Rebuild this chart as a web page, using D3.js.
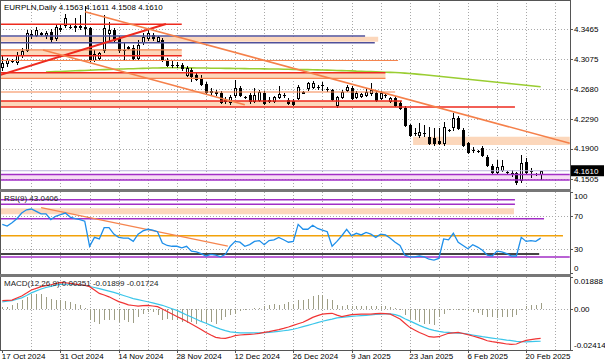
<!DOCTYPE html>
<html>
<head>
<meta charset="utf-8">
<script src="https://cdn.jsdelivr.net/npm/d3@7"></script>
<style>
body { margin: 0; background: #fff; }
svg { display: block; font-family: "Liberation Sans", Arial, sans-serif; font-size: 8px; }
</style>
</head>
<body>
<div id="chart"></div>
<script>
// ---- data ----
var opens = [4.2968,4.3020,4.3060,4.3034,4.3125,4.3191,4.3400,4.3387,4.3413,4.3387,
4.3426,4.3348,4.3478,4.3518,4.3492,4.3492,4.3505,4.3492,4.3478,4.3060,
4.3086,4.3191,4.3413,4.3452,4.3348,4.3191,4.3230,4.3217,4.3086,4.3295,
4.3348,4.3387,4.3308,4.3321,4.3060,4.2994,4.2994,4.2994,4.2863,4.2929,
4.2863,4.2824,4.2746,4.2641,4.2641,4.2628,4.2536,4.2510,4.2602,4.2693,
4.2575,4.2602,4.2523,4.2536,4.2628,4.2536,4.2523,4.2575,4.2602,4.2536,
4.2523,4.2562,4.2641,4.2693,4.2706,4.2706,4.2732,4.2680,4.2667,4.2471,
4.2575,4.2667,4.2693,4.2575,4.2589,4.2602,4.2628,4.2628,4.2562,4.2602,
4.2523,4.2562,4.2497,4.2431,4.2209,4.2104,4.2078,4.2104,4.2052,4.2039,
4.2000,4.1973,4.2143,4.2183,4.2300,4.2143,4.1973,4.1882,4.1869,4.1908,
4.1790,4.1672,4.1594,4.1620,4.1594,4.1581,4.1581,4.1489,4.1725,4.1607,
4.1567,4.1563];
var highs = [4.3112,4.3086,4.3073,4.3164,4.3217,4.3452,4.3452,4.3492,4.3426,4.3439,
4.3465,4.3531,4.3518,4.3662,4.3531,4.3609,4.3649,4.3766,4.3492,4.3191,
4.3164,4.3649,4.3557,4.3478,4.3374,4.3282,4.3243,4.3256,4.3321,4.3413,
4.3465,4.3413,4.3374,4.3348,4.3086,4.3047,4.3034,4.3020,4.2981,4.2955,
4.2903,4.2863,4.2772,4.2693,4.2667,4.2654,4.2575,4.2602,4.2798,4.2719,
4.2589,4.2628,4.2693,4.2667,4.2654,4.2575,4.2589,4.2719,4.2628,4.2562,
4.2549,4.2732,4.2654,4.2772,4.2785,4.2732,4.2772,4.2706,4.2680,4.2589,
4.2667,4.2732,4.2719,4.2654,4.2628,4.2680,4.2759,4.2654,4.2654,4.2628,
4.2575,4.2589,4.2523,4.2458,4.2222,4.2170,4.2235,4.2209,4.2183,4.2170,
4.2170,4.2248,4.2157,4.2366,4.2327,4.2170,4.1986,4.1921,4.1882,4.1934,
4.1816,4.1698,4.1751,4.1751,4.1607,4.1620,4.1594,4.1816,4.1777,4.1646,
4.1581,4.1611];
var lows = [4.2929,4.2981,4.3034,4.3007,4.3099,4.3177,4.3348,4.3374,4.3387,4.3348,
4.3295,4.3321,4.3439,4.3492,4.3478,4.3439,4.3465,4.3387,4.3047,4.3047,
4.3060,4.3164,4.3295,4.3295,4.3164,4.3060,4.3204,4.3060,4.3073,4.3269,
4.3321,4.3321,4.3295,4.3047,4.2981,4.2968,4.2968,4.2929,4.2850,4.2785,
4.2798,4.2732,4.2628,4.2615,4.2602,4.2497,4.2497,4.2484,4.2575,4.2589,
4.2562,4.2497,4.2510,4.2523,4.2484,4.2510,4.2510,4.2562,4.2575,4.2484,
4.2471,4.2549,4.2628,4.2667,4.2693,4.2680,4.2667,4.2654,4.2536,4.2445,
4.2562,4.2654,4.2549,4.2562,4.2575,4.2589,4.2602,4.2523,4.2549,4.2575,
4.2510,4.2458,4.2418,4.2196,4.2065,4.2078,4.2052,4.2065,4.1960,4.1947,
4.1960,4.1947,4.2130,4.2143,4.2157,4.1934,4.1842,4.1856,4.1856,4.1803,
4.1672,4.1581,4.1581,4.1607,4.1581,4.1541,4.1437,4.1463,4.1581,4.1528,
4.1554,4.1508];
var closes = [4.3020,4.3060,4.3053,4.3125,4.3177,4.3413,4.3387,4.3452,4.3400,4.3413,
4.3335,4.3492,4.3471,4.3609,4.3498,4.3505,4.3492,4.3478,4.3060,4.3138,
4.3151,4.3478,4.3452,4.3321,4.3191,4.3184,4.3223,4.3086,4.3256,4.3361,
4.3413,4.3348,4.3361,4.3060,4.2994,4.2988,4.2988,4.2955,4.2955,4.2850,
4.2811,4.2746,4.2641,4.2654,4.2628,4.2510,4.2529,4.2575,4.2693,4.2602,
4.2569,4.2523,4.2602,4.2641,4.2497,4.2529,4.2575,4.2615,4.2595,4.2497,
4.2484,4.2706,4.2634,4.2759,4.2759,4.2700,4.2726,4.2674,4.2549,4.2575,
4.2641,4.2706,4.2562,4.2628,4.2615,4.2641,4.2667,4.2536,4.2628,4.2595,
4.2562,4.2471,4.2431,4.2209,4.2078,4.2098,4.2117,4.2098,4.1973,4.1973,
4.1973,4.2183,4.2137,4.2300,4.2170,4.1947,4.1856,4.1875,4.1862,4.1816,
4.1685,4.1594,4.1659,4.1672,4.1588,4.1574,4.1463,4.1712,4.1594,4.1601,
4.1561,4.1610];

// green moving average, first value at bar maStart
var maStart = 9;
var ma = [4.2903,4.2905,4.2908,4.2910,4.2913,4.2916,4.2918,4.2921,4.2923,4.2926,
4.2929,4.2931,4.2934,4.2937,4.2938,4.2941,4.2942,4.2945,4.2946,4.2948,
4.2950,4.2952,4.2954,4.2955,4.2956,4.2958,4.2958,4.2958,4.2958,4.2956,
4.2956,4.2955,4.2955,4.2954,4.2952,4.2952,4.2951,4.2950,4.2950,4.2948,
4.2948,4.2947,4.2946,4.2946,4.2945,4.2943,4.2942,4.2942,4.2941,4.2939,
4.2938,4.2937,4.2935,4.2934,4.2933,4.2931,4.2930,4.2929,4.2927,4.2925,
4.2922,4.2921,4.2918,4.2917,4.2914,4.2913,4.2910,4.2908,4.2905,4.2903,
4.2900,4.2897,4.2895,4.2892,4.2888,4.2883,4.2878,4.2872,4.2866,4.2859,
4.2853,4.2846,4.2840,4.2833,4.2827,4.2820,4.2814,4.2807,4.2801,4.2794,
4.2787,4.2781,4.2774,4.2768,4.2761,4.2755,4.2748,4.2742,4.2735,4.2729,
4.2722,4.2715,4.2709];

var rsi = [60,58,62,67,74,78,79,76,73,73,
66,70,72,74,69,67,66,64,33,44,
42,56,56,48,44,43,43,39,48,52,
54,53,51,37,34,33,33,31,33,27,
26,24,21,23,22,20,23,33,39,38,
33,35,39,40,35,40,41,44,41,38,
39,60,54,54,59,55,53,51,33,39,
46,54,46,49,47,50,48,44,48,47,
43,38,34,22,20,20,21,20,17,16,
18,42,41,49,38,34,30,35,32,28,
22,21,27,26,24,21,21,44,39,40,
39,43.0406];

var macdMain = [0.0049,0.0051,0.0053,0.0065,0.0077,0.0094,0.0112,0.0122,0.0132,0.0138,
0.0143,0.0150,0.0157,0.0155,0.0151,0.0147,0.0143,0.0140,0.0132,0.0112,
0.0092,0.0083,0.0072,0.0058,0.0044,0.0035,0.0025,0.0021,0.0017,0.0020,
0.0022,0.0018,0.0014,0.0000,-0.0014,-0.0029,-0.0044,-0.0058,-0.0072,-0.0088,
-0.0104,-0.0120,-0.0138,-0.0153,-0.0167,-0.0171,-0.0173,-0.0166,-0.0157,-0.0153,
-0.0151,-0.0149,-0.0147,-0.0143,-0.0138,-0.0133,-0.0127,-0.0121,-0.0114,-0.0106,
-0.0096,-0.0087,-0.0078,-0.0064,-0.0049,-0.0039,-0.0030,-0.0027,-0.0025,-0.0036,
-0.0045,-0.0039,-0.0033,-0.0031,-0.0030,-0.0030,-0.0030,-0.0027,-0.0025,-0.0027,
-0.0030,-0.0044,-0.0059,-0.0084,-0.0108,-0.0123,-0.0138,-0.0150,-0.0163,-0.0165,
-0.0163,-0.0153,-0.0143,-0.0140,-0.0138,-0.0144,-0.0151,-0.0159,-0.0167,-0.0176,
-0.0187,-0.0192,-0.0196,-0.0201,-0.0206,-0.0208,-0.0206,-0.0194,-0.0185,-0.0180,
-0.0176,-0.01724];
var macdSignal = [0.0042,0.0046,0.0050,0.0058,0.0066,0.0080,0.0095,0.0107,0.0118,0.0127,
0.0134,0.0141,0.0145,0.0146,0.0146,0.0144,0.0142,0.0139,0.0133,0.0127,
0.0120,0.0113,0.0106,0.0098,0.0089,0.0080,0.0071,0.0061,0.0055,0.0049,
0.0043,0.0036,0.0029,0.0022,0.0012,0.0002,-0.0008,-0.0021,-0.0035,-0.0047,
-0.0060,-0.0073,-0.0084,-0.0096,-0.0108,-0.0118,-0.0127,-0.0135,-0.0138,-0.0140,
-0.0141,-0.0141,-0.0141,-0.0141,-0.0139,-0.0137,-0.0135,-0.0132,-0.0128,-0.0124,
-0.0119,-0.0112,-0.0104,-0.0096,-0.0088,-0.0080,-0.0072,-0.0065,-0.0059,-0.0052,
-0.0049,-0.0046,-0.0043,-0.0041,-0.0039,-0.0037,-0.0035,-0.0032,-0.0030,-0.0027,
-0.0028,-0.0033,-0.0042,-0.0057,-0.0070,-0.0083,-0.0096,-0.0108,-0.0118,-0.0126,
-0.0132,-0.0136,-0.0138,-0.0140,-0.0142,-0.0144,-0.0148,-0.0153,-0.0158,-0.0163,
-0.0167,-0.0171,-0.0175,-0.0179,-0.0183,-0.0186,-0.0190,-0.0192,-0.0193,-0.0192,
-0.0191,-0.01899];
var macdHist = [0.0012,0.0012,0.0022,0.0035,0.0051,0.0071,0.0086,0.0090,0.0086,0.0071,
0.0061,0.0055,0.0051,0.0047,0.0040,0.0031,0.0022,0.0005,-0.0067,-0.0077,
-0.0090,-0.0067,-0.0063,-0.0067,-0.0077,-0.0063,-0.0077,-0.0082,-0.0047,-0.0028,
-0.0018,-0.0018,-0.0037,-0.0067,-0.0057,-0.0063,-0.0067,-0.0077,-0.0082,-0.0077,
-0.0086,-0.0077,-0.0082,-0.0077,-0.0086,-0.0067,-0.0047,-0.0035,-0.0028,-0.0012,
-0.0004,0.0002,0.0005,0.0008,0.0015,0.0022,0.0031,0.0022,0.0031,0.0041,
0.0031,0.0051,0.0051,0.0061,0.0075,0.0081,0.0081,0.0061,0.0051,0.0022,
0.0016,0.0022,0.0016,0.0016,0.0016,0.0016,0.0016,0.0016,0.0016,0.0016,
0.0012,0.0008,-0.0008,-0.0037,-0.0057,-0.0067,-0.0077,-0.0086,-0.0090,-0.0092,
-0.0047,-0.0028,-0.0004,-0.0004,-0.0004,-0.0008,-0.0012,-0.0018,-0.0024,-0.0037,
-0.0047,-0.0047,-0.0051,-0.0047,-0.0047,-0.0047,-0.0037,-0.0008,0.0016,0.0022,
0.0026,0.00351];

var priceTicks = [4.3465, 4.3075, 4.2680, 4.2290, 4.1900, 4.1505];
var rsiTicks = [100, 70, 30, 0];
var rsiGrid = [70, 30];
var macdTicks = [0.01888, 0, -0.02414];
var macdTickText = ["0.01888", "0.00", "-0.02414"];
var dateLabels = ["17 Oct 2024","31 Oct 2024","14 Nov 2024","28 Nov 2024","12 Dec 2024",
  "26 Dec 2024","9 Jan 2025","23 Jan 2025","6 Feb 2025","20 Feb 2025"];
var dateBars = [0, 12, 24, 36, 48, 60, 72, 84, 96, 108];
var lastPrice = 4.1610;

// drawn objects: [price, endBar, kind]
var hLines = [[4.3527, 37.0, "red"], [4.3116, 37.0, "red"], [4.2893, 79.0, "red"],
  [4.2523, 82.4, "red"], [4.2444, 105.7, "red"],
  [4.3373, 74.8, "navy"], [4.3286, 76.8, "navy"],
  [4.3191, 37.0, "orange"], [4.3053, 81.6, "orange"], [4.2820, 79.0, "orange"], [4.2641, 81.0, "orange"],
  [4.1561, 117, "purple"], [4.1489, 117, "purple"], [4.1610, 117, "bid"]];
// [top, bottom, fromBar, toBar]
var bands = [[4.3364, 4.3299, -1, 77.5], [4.3191, 4.3116, -1, 37.0], [4.2889, 4.2820, -1, 79.0],
  [4.2523, 4.2444, -1, 82.4], [4.2055, 4.1947, 84.7, 117]];
var pinkBand = [4.1561, 4.1489];
// [bar0, price0, bar1, price1, kind]
var trends = [[-0.5, 4.2863, 33.75, 4.3530, "redT"], [17.05, 4.3692, 117, 4.1969, "orangeT"],
  [8.4, 4.3191, 50.0, 4.2475, "orangeT"]];
// RSI objects: [value, endBar, kind]
var rsiLines = [[90.5, 105.7, "purple"], [84.8, 105.7, "purple"], [67, 111.7, "purple"],
  [46, 115.6, "gold"], [23.5, 110.7, "dark"], [19.8, 117, "purple"]];
var rsiBand = [79.9, 72.5, -1, 105.5];
var rsiTrend = [8.0, 80.6, 46.5, 33.3];

var styles = {
  red: {c: "#ee2a1e", w: 1.6}, redT: {c: "#ee2a1e", w: 2},
  navy: {c: "#50509a", w: 1.5}, orange: {c: "#f5854f", w: 1.2}, orangeT: {c: "#f5804a", w: 1.6},
  purple: {c: "#a22ec6", w: 1.5}, bid: {c: "#bcb2dc", w: 1},
  gold: {c: "#f2a20a", w: 1.5}, dark: {c: "#444", w: 2}
};

// ---- layout ----
var W = 605, H = 363, plotR = 570;
var panels = [{t: 0, b: 189.5}, {t: 192, b: 273}, {t: 277, b: 350}];

var x = d3.scaleLinear().domain([0, 117]).range([2.3, 569.75]);
var y = d3.scaleLinear().domain([4.1367, 4.3845]).range([189.3, 0]);
var yR = d3.scaleLinear().domain([0, 100]).range([273, 192]);
var yM = d3.scaleLinear().domain([-0.02414, 0.01888]).range([350, 277]);
function px(i) { return Math.round(x(i)) + 0.5; }

var svg = d3.select("#chart").append("svg").attr("width", W).attr("height", H);
svg.append("rect").attr("width", W).attr("height", H).attr("fill", "#fff");

var defs = svg.append("defs");
panels.forEach(function(p, k) {
  defs.append("clipPath").attr("id", "clip" + k).append("rect")
    .attr("x", 1).attr("y", p.t).attr("width", plotR - 1).attr("height", p.b - p.t);
});

var gMain = svg.append("g").attr("clip-path", "url(#clip0)");
var gRsi = svg.append("g").attr("clip-path", "url(#clip1)");
var gMacd = svg.append("g").attr("clip-path", "url(#clip2)");

// grid
var vGrid = d3.range(6, 117, 6);
[gMain, gRsi, gMacd].forEach(function(g, k) {
  g.selectAll(".vg").data(vGrid).enter().append("line")
    .attr("x1", px).attr("x2", px).attr("y1", panels[k].t).attr("y2", panels[k].b)
    .attr("stroke", "#a8a8a8").attr("stroke-dasharray", "1,2").attr("shape-rendering", "crispEdges");
});
function hGrid(g, vals, sc) {
  g.selectAll(".hg").data(vals).enter().append("line")
    .attr("x1", 0).attr("x2", plotR)
    .attr("y1", function(d) { return Math.round(sc(d)) + 0.5; })
    .attr("y2", function(d) { return Math.round(sc(d)) + 0.5; })
    .attr("stroke", "#a8a8a8").attr("stroke-dasharray", "1,2").attr("shape-rendering", "crispEdges");
}

// main bands (background)
gMain.selectAll(".band").data(bands).enter().append("rect")
  .attr("x", function(d) { return x(d[2]); })
  .attr("width", function(d) { return x(d[3]) - x(d[2]); })
  .attr("y", function(d) { return y(d[0]); })
  .attr("height", function(d) { return y(d[1]) - y(d[0]); })
  .attr("fill", "#fcd7bb");
gMain.append("rect").attr("x", 0).attr("width", plotR)
  .attr("y", y(pinkBand[0])).attr("height", y(pinkBand[1]) - y(pinkBand[0]))
  .attr("fill", "#f6dcf4");
hGrid(gMain, priceTicks, y);

// moving average
var maLine = d3.line().x(function(d, k) { return x(maStart + k); }).y(function(d) { return y(d); });
gMain.append("path").datum(ma).attr("d", maLine)
  .attr("fill", "none").attr("stroke", "#9acd32").attr("stroke-width", 1.6);

// candles
var idx = d3.range(closes.length);
var candles = gMain.selectAll(".c").data(idx).enter().append("g").attr("shape-rendering", "crispEdges");
candles.append("line")
  .attr("x1", px).attr("x2", px)
  .attr("y1", function(i) { return Math.round(y(highs[i])); })
  .attr("y2", function(i) { return Math.round(y(lows[i])) + 1; })
  .attr("stroke", "#000");
candles.each(function(i) {
  var g = d3.select(this), cx = px(i);
  var top = Math.round(y(Math.max(opens[i], closes[i])));
  var bot = Math.round(y(Math.min(opens[i], closes[i])));
  if (bot - top < 1) {
    g.append("line").attr("x1", cx - 1.5).attr("x2", cx + 1.5)
      .attr("y1", top + 0.5).attr("y2", top + 0.5).attr("stroke", "#000");
  } else {
    g.append("rect").attr("x", cx - 1).attr("y", top + 0.5)
      .attr("width", 2).attr("height", bot - top)
      .attr("fill", closes[i] >= opens[i] ? "#fff" : "#000").attr("stroke", "#000");
  }
});

// horizontal objects and trendlines
gMain.selectAll(".hl").data(hLines).enter().append("line")
  .attr("x1", 0).attr("x2", function(d) { return x(d[1]); })
  .attr("y1", function(d) { return y(d[0]); }).attr("y2", function(d) { return y(d[0]); })
  .attr("stroke", function(d) { return styles[d[2]].c; })
  .attr("stroke-width", function(d) { return styles[d[2]].w; });
gMain.selectAll(".tl").data(trends).enter().append("line")
  .attr("x1", function(d) { return x(d[0]); }).attr("y1", function(d) { return y(d[1]); })
  .attr("x2", function(d) { return x(d[2]); }).attr("y2", function(d) { return y(d[3]); })
  .attr("stroke", function(d) { return styles[d[4]].c; })
  .attr("stroke-width", function(d) { return styles[d[4]].w; });

// RSI panel
gRsi.append("rect").attr("x", x(rsiBand[2])).attr("width", x(rsiBand[3]) - x(rsiBand[2]))
  .attr("y", yR(rsiBand[0])).attr("height", yR(rsiBand[1]) - yR(rsiBand[0])).attr("fill", "#fcd7bb");
hGrid(gRsi, rsiGrid, yR);
gRsi.selectAll(".rl").data(rsiLines).enter().append("line")
  .attr("x1", 0).attr("x2", function(d) { return x(d[1]); })
  .attr("y1", function(d) { return yR(d[0]); }).attr("y2", function(d) { return yR(d[0]); })
  .attr("stroke", function(d) { return styles[d[2]].c; })
  .attr("stroke-width", function(d) { return styles[d[2]].w; });
gRsi.append("line")
  .attr("x1", x(rsiTrend[0])).attr("y1", yR(rsiTrend[1]))
  .attr("x2", x(rsiTrend[2])).attr("y2", yR(rsiTrend[3]))
  .attr("stroke", styles.orange.c).attr("stroke-width", 1.3);
gRsi.append("path").datum(rsi)
  .attr("d", d3.line().x(function(d, i) { return x(i); }).y(function(d) { return yR(d); }))
  .attr("fill", "none").attr("stroke", "#1e8fea").attr("stroke-width", 1.3);

// MACD panel
hGrid(gMacd, [0], yM);
gMacd.selectAll(".h").data(macdHist).enter().append("line")
  .attr("x1", function(d, i) { return px(i); }).attr("x2", function(d, i) { return px(i); })
  .attr("y1", yM(0)).attr("y2", function(d) { return yM(d); })
  .attr("stroke", "#9e9e86").attr("shape-rendering", "crispEdges");
var mLine = d3.line().x(function(d, i) { return x(i); }).y(function(d) { return yM(d); });
gMacd.append("path").datum(macdSignal).attr("d", mLine)
  .attr("fill", "none").attr("stroke", "#3cc6ea").attr("stroke-width", 1.2);
gMacd.append("path").datum(macdMain).attr("d", mLine)
  .attr("fill", "none").attr("stroke", "#f03434").attr("stroke-width", 1.2);

// frames
var frame = svg.append("g").attr("fill", "none").attr("shape-rendering", "crispEdges");
frame.append("rect").attr("x", 0.5).attr("y", 0.5).attr("width", plotR).attr("height", 350)
  .attr("stroke", "#555");
frame.append("line").attr("x1", 0).attr("x2", plotR + 1).attr("y1", 190.5).attr("y2", 190.5)
  .attr("stroke", "#777").attr("stroke-width", 3);
frame.append("line").attr("x1", 0).attr("x2", plotR + 1).attr("y1", 275.5).attr("y2", 275.5)
  .attr("stroke", "#777").attr("stroke-width", 3);

// right axis labels
function clampY(v, p) { return Math.max(p.t + 4.5, Math.min(p.b - 4.5, v)); }
var axisG = svg.append("g");
function rightLabels(vals, texts, sc, p) {
  vals.forEach(function(v, k) {
    var yy = clampY(sc(v), p);
    axisG.append("line").attr("x1", plotR).attr("x2", plotR + 3)
      .attr("y1", Math.round(sc(v)) + 0.5).attr("y2", Math.round(sc(v)) + 0.5)
      .attr("stroke", "#555").attr("shape-rendering", "crispEdges");
    axisG.append("text").attr("x", 574).attr("y", yy).attr("dy", "0.35em")
      .attr("fill", "#000").text(texts[k]);
  });
}
rightLabels(priceTicks, priceTicks.map(function(d) { return d.toFixed(4); }), y, panels[0]);
rightLabels(rsiTicks, rsiTicks.map(String), yR, panels[1]);
rightLabels(macdTicks, macdTickText, yM, panels[2]);

// last price box
axisG.append("rect").attr("x", 571).attr("y", y(lastPrice) - 5.5).attr("width", 33).attr("height", 11)
  .attr("fill", "#000");
axisG.append("text").attr("x", 574).attr("y", y(lastPrice)).attr("dy", "0.35em")
  .attr("fill", "#fff").text(lastPrice.toFixed(4));

// time axis
dateBars.forEach(function(b, k) {
  axisG.append("line").attr("x1", px(b)).attr("x2", px(b)).attr("y1", 350).attr("y2", 353)
    .attr("stroke", "#555").attr("shape-rendering", "crispEdges");
  axisG.append("text").attr("x", x(b) - 0.5).attr("y", 359).attr("fill", "#000").text(dateLabels[k]);
});

// panel captions
svg.append("text").attr("x", 4).attr("y", 9.5).attr("fill", "#000")
  .text("EURPLN,Daily  4.1563 4.1611 4.1508 4.1610");
svg.append("text").attr("x", 4).attr("y", 200.5).attr("fill", "#222")
  .text("RSI(9) 43.0406");
svg.append("text").attr("x", 4).attr("y", 286).attr("fill", "#222")
  .text("MACD(12,26,9) 0.00351 -0.01899 -0.01724");
</script>
</body>
</html>
